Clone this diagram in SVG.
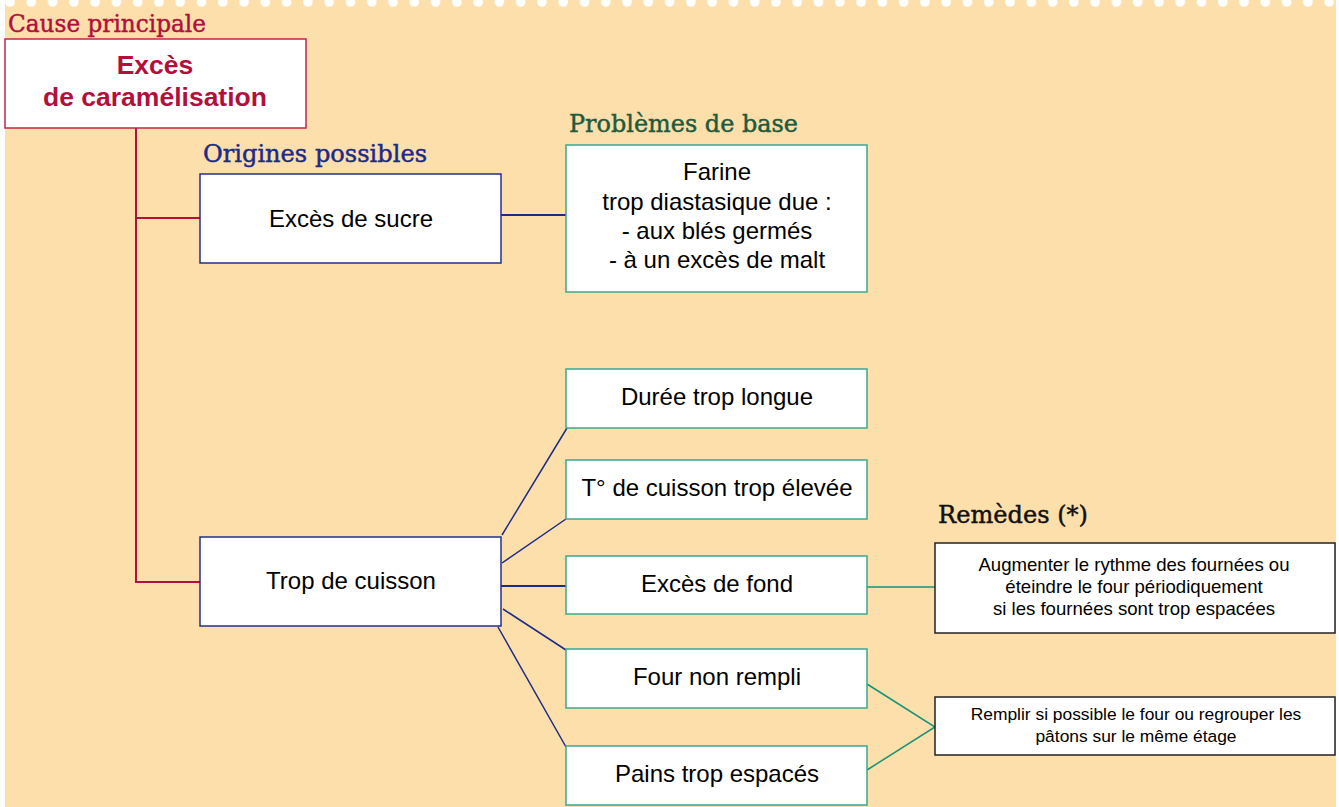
<svg xmlns="http://www.w3.org/2000/svg" width="1339" height="807" viewBox="0 0 1339 807">
<defs>
<pattern id="dots" patternUnits="userSpaceOnUse" x="-0.64" y="0" width="21.277" height="12">
<circle cx="10.64" cy="2" r="4.8" fill="#ffffff"/>
</pattern>
<style>
.hd{font-family:"DejaVu Serif","Liberation Serif",serif;font-size:23.5px;stroke-width:0.45px}
.t{font-family:"Liberation Sans",Arial,sans-serif;font-size:24px;fill:#000;text-anchor:middle}
.r{font-family:"Liberation Sans",Arial,sans-serif;fill:#000;text-anchor:middle}
.nv{fill:#fff;stroke:#23318f;stroke-width:1.5}
.tl{fill:#fff;stroke:#3aa88f;stroke-width:1.5}
.bk{fill:#fff;stroke:#222;stroke-width:1.5}
</style>
</defs>
<rect x="0" y="0" width="1339" height="807" fill="#ffffff"/>
<rect x="5" y="0" width="1331" height="807" fill="#fddfac"/>
<rect x="5" y="0" width="1331" height="8" fill="url(#dots)"/>

<g id="connectors" fill="none">
<path d="M136 128V583M136 218H200M136 582H200" stroke="#b2103c" stroke-width="2"/>
<path d="M501 215H566M501 586H566" stroke="#1c2a88" stroke-width="2"/>
<path d="M502 535L567 428M502 563L566 519M503 609L566 650M498 627L566 747" stroke="#1c2a88" stroke-width="1.5"/>
<path d="M867 587H935M867 684L935 727L867 770" stroke="#159478" stroke-width="1.5"/>
</g>

<g id="cause">
<text class="hd" x="8" y="32" fill="#b2103c" stroke="#b2103c" textLength="198" lengthAdjust="spacingAndGlyphs">Cause principale</text>
<rect x="5" y="39" width="301" height="89" fill="#fff" stroke="#c0264e" stroke-width="1.5"/>
<text x="155" y="74" font-family="Liberation Sans,Arial,sans-serif" font-weight="bold" font-size="26.5" fill="#b2103c" text-anchor="middle">Excès</text>
<text x="155" y="106" font-family="Liberation Sans,Arial,sans-serif" font-weight="bold" font-size="26.5" fill="#b2103c" text-anchor="middle">de caramélisation</text>
</g>

<g id="origines-label">
<text class="hd" x="203" y="162" fill="#1c2a88" stroke="#1c2a88" textLength="224" lengthAdjust="spacingAndGlyphs">Origines possibles</text>
</g>

<g id="sucre">
<rect class="nv" x="200" y="174" width="301" height="89"/>
<text class="t" x="351" y="227">Excès de sucre</text>
</g>

<g id="problemes-label">
<text class="hd" x="569" y="132" fill="#1e5a3c" stroke="#1e5a3c" textLength="229" lengthAdjust="spacingAndGlyphs">Problèmes de base</text>
</g>

<g id="farine">
<rect class="tl" x="566" y="145" width="301" height="147"/>
<text class="t" x="717" y="180">Farine</text>
<text class="t" x="717" y="210">trop diastasique due :</text>
<text class="t" x="717" y="239">- aux blés germés</text>
<text class="t" x="717" y="268">- à un excès de malt</text>
</g>

<g id="cuisson">
<rect class="nv" x="200" y="537" width="301" height="89"/>
<text class="t" x="351" y="589">Trop de cuisson</text>
</g>

<g id="duree">
<rect class="tl" x="566" y="369" width="301" height="59"/>
<text class="t" x="717" y="405">Durée trop longue</text>
</g>

<g id="temperature">
<rect class="tl" x="566" y="460" width="301" height="59"/>
<text class="t" x="717" y="496">T° de cuisson trop élevée</text>
</g>

<g id="fond">
<rect class="tl" x="566" y="556" width="301" height="58"/>
<text class="t" x="717" y="592">Excès de fond</text>
</g>

<g id="four">
<rect class="tl" x="566" y="649" width="301" height="59"/>
<text class="t" x="717" y="685">Four non rempli</text>
</g>

<g id="pains">
<rect class="tl" x="566" y="746" width="301" height="59"/>
<text class="t" x="717" y="782">Pains trop espacés</text>
</g>

<g id="remedes-label">
<text class="hd" x="938" y="523" fill="#111" stroke="#111" textLength="150" lengthAdjust="spacingAndGlyphs">Remèdes (*)</text>
</g>

<g id="remede1">
<rect class="bk" x="935" y="543" width="400" height="90"/>
<text class="r" x="1134" y="571" font-size="18.6">Augmenter le rythme des fournées ou</text>
<text class="r" x="1134" y="593" font-size="18.6">éteindre le four périodiquement</text>
<text class="r" x="1134" y="615" font-size="18.6">si les fournées sont trop espacées</text>
</g>

<g id="remede2">
<rect class="bk" x="935" y="697" width="400" height="58"/>
<text class="r" x="1136" y="720" font-size="17.4">Remplir si possible le four ou regrouper les</text>
<text class="r" x="1136" y="742" font-size="17.4">pâtons sur le même étage</text>
</g>
</svg>
